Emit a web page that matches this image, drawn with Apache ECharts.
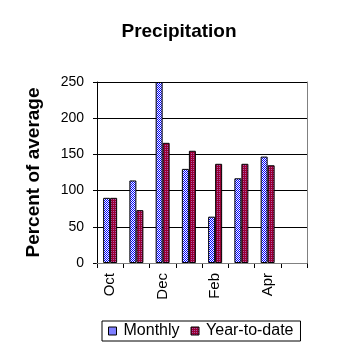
<!DOCTYPE html>
<html><head><meta charset="utf-8">
<script src="https://cdn.jsdelivr.net/npm/echarts@6/dist/echarts.min.js"></script>
<style>html,body{margin:0;padding:0;background:#fff}#c{width:358px;height:358px}</style>
</head><body><div id="c"></div>
<script>
var categories = ['Oct','Nov','Dec','Jan','Feb','Mar','Apr','May'];
var monthly = [90, 114, 250, 130, 64, 117, 147, null];
var yearToDate = [90, 73, 166, 155, 137, 137, 135, null];
var yTicks = [0, 50, 100, 150, 200, 250];

function makePattern(draw){
  var c = document.createElement('canvas'); c.width = 2; c.height = 2;
  var g = c.getContext('2d'); draw(g); return c;
}
var bluePat = makePattern(function(g){
  g.fillStyle='#ffffff'; g.fillRect(0,0,2,2);
  g.fillStyle='#0000ff'; g.fillRect(0,0,1,1); g.fillRect(1,1,1,1);
});
var redPat = makePattern(function(g){
  g.fillStyle='#990033'; g.fillRect(0,0,2,2);
  g.fillStyle='#b05ab0'; g.fillRect(1,1,1,1);
});
var FONT = '"Liberation Sans", Arial, sans-serif';
var chart = echarts.init(document.getElementById('c'), null, {renderer:'canvas'});
chart.setOption({
  animation:false,
  backgroundColor:'#ffffff',
  title:{text:'Precipitation', left:'center', top:22, padding:0,
    textStyle:{fontFamily:FONT, fontWeight:'bold', fontSize:19, color:'#000'}},
  grid:{left:97, top:82, right:51, bottom:95, containLabel:false, show:false},
  legend:{left:102, top:321, orient:'horizontal', itemWidth:8, itemHeight:8, itemGap:11,
    borderColor:'#000', borderWidth:1, padding:[2,7,2,6], icon:'rect',
    textStyle:{fontFamily:FONT, fontSize:16, color:'#000', padding:[0,0,0,2]},
    itemStyle:{borderColor:'#000', borderWidth:1},
    data:['Monthly','Year-to-date']},
  xAxis:[{type:'category', data:categories, boundaryGap:true,
    axisLine:{lineStyle:{color:'#000', width:1}},
    axisTick:{show:true, interval:0, length:5, lineStyle:{color:'#000'}},
    axisLabel:{interval:1, rotate:90, margin:10, fontFamily:FONT, fontSize:15, color:'#000'},
    splitLine:{show:false}},
    {type:'category', data:categories, position:'top', z:5,
    axisLine:{show:true, lineStyle:{color:'#808080', width:1}},
    axisTick:{show:false}, axisLabel:{show:false}, splitLine:{show:false}}],
  yAxis:[{type:'value', min:yTicks[0], max:yTicks[yTicks.length-1], interval:50,
    name:'Percent of average', nameLocation:'middle', nameGap:54,
    nameTextStyle:{fontFamily:FONT, fontWeight:'bold', fontSize:19, color:'#000'},
    axisLine:{show:true, lineStyle:{color:'#000'}},
    axisTick:{show:true, length:4, lineStyle:{color:'#000'}},
    axisLabel:{margin:13, fontFamily:FONT, fontSize:14, color:'#000'},
    splitLine:{show:true, lineStyle:{color:'#000', width:1}}},
    {type:'value', min:yTicks[0], max:yTicks[yTicks.length-1], interval:50, position:'right', z:5,
    axisLine:{show:true, lineStyle:{color:'#808080'}},
    axisTick:{show:false}, axisLabel:{show:false}, splitLine:{show:false}}],
  series:[
    {name:'Monthly', type:'bar', data:monthly, barWidth:7, barGap:'0%',
      itemStyle:{color:{image:bluePat, repeat:'repeat'}, borderColor:'#000', borderWidth:1}},
    {name:'Year-to-date', type:'bar', data:yearToDate, barWidth:7, barGap:'0%',
      itemStyle:{color:{image:redPat, repeat:'repeat'}, borderColor:'#000', borderWidth:1}}
  ]
});
</script></body></html>
